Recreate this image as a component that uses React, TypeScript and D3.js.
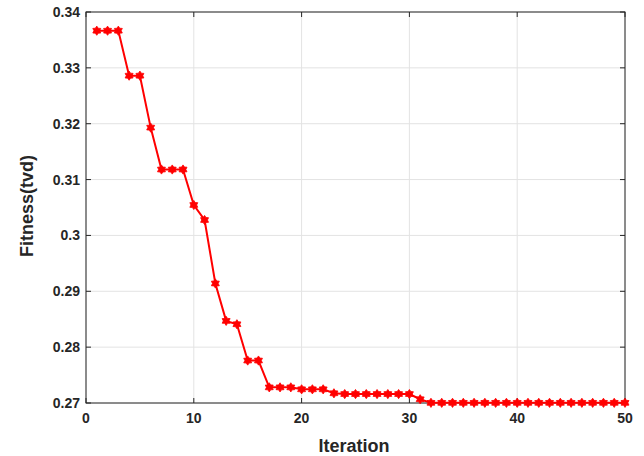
import React from "react";
import * as d3 from "d3";

const iterations = d3.range(1, 51);
const fitness = [
  0.33665, 0.33665, 0.33665, 0.3286, 0.3286, 0.3193, 0.3118, 0.3118, 0.3118, 0.30545,
  0.30276, 0.2914, 0.2847, 0.2841, 0.2776, 0.2776, 0.2728, 0.2728, 0.2728, 0.27245,
  0.27245, 0.27245, 0.27174, 0.2716, 0.2716, 0.2716, 0.2716, 0.2716, 0.2716, 0.2716,
  0.27067, 0.27003, 0.27003, 0.27003, 0.27003, 0.27003, 0.27003, 0.27003, 0.27003, 0.27003,
  0.27003, 0.27003, 0.27003, 0.27003, 0.27003, 0.27003, 0.27003, 0.27003, 0.27003, 0.27003,
];
const xTicks = [0, 10, 20, 30, 40, 50];
const yTicks = [0.27, 0.28, 0.29, 0.3, 0.31, 0.32, 0.33, 0.34];

function hexagram(r: number) {
  const pts: string[] = [];
  for (let i = 0; i < 12; i++) {
    const a = (Math.PI / 6) * i - Math.PI / 2;
    const rr = i % 2 === 0 ? r : r * 0.62;
    pts.push(`${(rr * Math.cos(a)).toFixed(2)},${(rr * Math.sin(a)).toFixed(2)}`);
  }
  return "M" + pts.join("L") + "Z";
}

export default function App() {
  const W = 644, H = 456;
  const L = 86, R = 625, T = 12, B = 403;
  const x = d3.scaleLinear().domain([0, 50]).range([L, R]);
  const y = d3.scaleLinear().domain([0.27, 0.34]).range([B, T]);
  const line = d3.line<number>().x((_, i) => x(iterations[i])).y((d) => y(d));
  const font = "Arial, 'Liberation Sans', sans-serif";
  const marker = hexagram(4.6);
  const fmt = (v: number) => String(+v.toFixed(2));
  return (
    <svg width={W} height={H} style={{ position: "absolute", left: 0, top: 0, background: "#fff" }}>
      {xTicks.map((t) => (
        <line key={"gx" + t} x1={x(t)} x2={x(t)} y1={T} y2={B} stroke="#e3e3e3" strokeWidth={1} />
      ))}
      {yTicks.map((t) => (
        <line key={"gy" + t} x1={L} x2={R} y1={y(t)} y2={y(t)} stroke="#e3e3e3" strokeWidth={1} />
      ))}
      <rect x={L} y={T} width={R - L} height={B - T} fill="none" stroke="#262626" strokeWidth={1} />
      {xTicks.map((t) => (
        <g key={"tx" + t}>
          <line x1={x(t)} x2={x(t)} y1={B} y2={B - 5} stroke="#262626" />
          <line x1={x(t)} x2={x(t)} y1={T} y2={T + 5} stroke="#262626" />
          <text x={x(t)} y={423} textAnchor="middle" fontFamily={font} fontWeight="bold" fontSize={14} fill="#262626">
            {t}
          </text>
        </g>
      ))}
      {yTicks.map((t) => (
        <g key={"ty" + t}>
          <line x1={L} x2={L + 5} y1={y(t)} y2={y(t)} stroke="#262626" />
          <line x1={R} x2={R - 5} y1={y(t)} y2={y(t)} stroke="#262626" />
          <text x={80} y={y(t) + 5} textAnchor="end" fontFamily={font} fontWeight="bold" fontSize={14} fill="#262626">
            {fmt(t)}
          </text>
        </g>
      ))}
      <path d={line(fitness) || ""} fill="none" stroke="#ff0000" strokeWidth={2} />
      {fitness.map((v, i) => (
        <path key={"m" + i} d={marker} transform={`translate(${x(iterations[i])},${y(v)})`} fill="#ff0000" stroke="#ff0000" strokeWidth={0.8} />
      ))}
      <text x={354} y={452} textAnchor="middle" fontFamily={font} fontWeight="bold" fontSize={18} fill="#262626">
        Iteration
      </text>
      <text transform={`translate(33,206) rotate(-90)`} textAnchor="middle" fontFamily={font} fontWeight="bold" fontSize={18} fill="#262626">
        Fitness(tvd)
      </text>
    </svg>
  );
}
